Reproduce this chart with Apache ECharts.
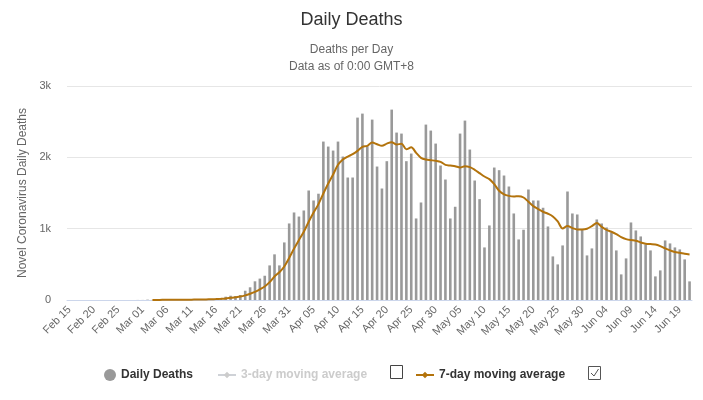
<!DOCTYPE html>
<html>
<head>
<meta charset="utf-8">
<script src="https://cdn.jsdelivr.net/npm/echarts@6/dist/echarts.min.js"></script>
<style>
html,body{margin:0;padding:0;background:#fff;}
#chart{width:703px;height:400px;}
</style>
</head>
<body>
<div id="chart"></div>
<script>
// Categories: Feb 15 .. Jun 21 (2020)
var months = [['Feb', 15, 29], ['Mar', 1, 31], ['Apr', 1, 30], ['May', 1, 31], ['Jun', 1, 21]];
var categories = [];
months.forEach(function (m) {
  for (var d = m[1]; d <= m[2]; d++) categories.push(m[0] + ' ' + (d < 10 ? '0' + d : d));
});

// Daily deaths (Feb 15 .. Feb 29)
var deathsFeb = [0,0,0,0,0,0,0,0,0,0,0,0,0,0,1];
// Mar 01 .. Mar 31
var deathsMar = [1,5,1,4,1,2,3,3,4,5,8,7,11,10,12,19,25,46,60,55,70,130,178,262,300,340,485,640,485,807,1073];
// Apr 01 .. Apr 30
var deathsApr = [1227,1170,1255,1535,1395,1490,2221,2151,2095,2221,2011,1717,1717,2557,2613,2156,2529,1871,1563,1946,2669,2347,2333,1946,2053,1143,1367,2459,2375,2193];
// May 01 .. May 31
var deathsMay = [1885,1689,1143,1307,2333,2515,2109,1675,1414,737,1045,1857,1820,1745,1591,1213,849,985,1549,1395,1395,1293,1031,611,499,765,1521,1213,1199,985,625];
// Jun 01 .. Jun 21
var deathsJun = [723,1129,1073,1017,947,695,359,583,1087,975,891,779,695,331,415,835,793,737,709,569,261];

// 7-day moving average; starts Mar 03
var ma7Feb = [null,null,null,null,null,null,null,null,null,null,null,null,null,null,null];
var ma7Mar = [null,null,1,1,2,2,2,3,3,4,5,6,7,8,10,13,17,22,30,38,48,65,88,115,150,190,250,330,390,470,590];
var ma7Apr = [720,840,957,1097,1227,1344,1493,1633,1759,1895,1969,2011,2044,2091,2147,2161,2207,2184,2161,2193,2212,2179,2190,2112,2140,2063,1993,1969,1960,1951];
var ma7May = [1937,1895,1885,1876,1857,1876,1862,1825,1778,1731,1694,1624,1531,1482,1460,1451,1456,1437,1377,1316,1274,1237,1209,1171,1101,1003,1036,1008,989,989,999];
var ma7Jun = [1036,1078,1025,983,957,924,882,854,840,831,807,789,784,779,756,723,695,672,662,648,639];

var yTicks = [0, 1000, 2000, 3000];
var yTickLabels = ['0', '1k', '2k', '3k'];

var deaths = [].concat(deathsFeb, deathsMar, deathsApr, deathsMay, deathsJun);
var ma7 = [].concat(ma7Feb, ma7Mar, ma7Apr, ma7May, ma7Jun);

var barColor = '#999999';
var lineColor = '#b3730c';
var font = 'Liberation Sans, Arial, sans-serif';

var chart = echarts.init(document.getElementById('chart'), null, {renderer: 'canvas'});
chart.setOption({
  animation: false,
  backgroundColor: '#ffffff',
  textStyle: {fontFamily: font},
  title: {
    text: 'Daily Deaths',
    subtext: 'Deaths per Day\nData as of 0:00 GMT+8',
    left: 'center',
    top: 6,
    itemGap: 12,
    textStyle: {fontSize: 18, color: '#333333', fontWeight: 'normal', fontFamily: font},
    subtextStyle: {fontSize: 12, color: '#666666', lineHeight: 17, fontFamily: font}
  },
  grid: {left: 67, right: 11, top: 86, bottom: 100, containLabel: false},
  xAxis: {
    type: 'category',
    data: categories,
    boundaryGap: true,
    axisLine: {lineStyle: {color: '#ccd6eb', width: 1}},
    axisTick: {show: false},
    axisLabel: {interval: 4, rotate: 45, color: '#666666', fontSize: 11, margin: 8, fontFamily: font}
  },
  yAxis: {
    type: 'value',
    min: yTicks[0],
    max: yTicks[yTicks.length - 1],
    interval: 1000,
    name: 'Novel Coronavirus Daily Deaths',
    nameLocation: 'middle',
    nameGap: 38,
    nameTextStyle: {color: '#666666', fontSize: 12, fontFamily: font},
    axisLine: {show: false},
    axisTick: {show: false},
    axisLabel: {
      color: '#666666', fontSize: 11, margin: 16,
      formatter: function (v) { var i = yTicks.indexOf(v); return i >= 0 ? yTickLabels[i] : ''; }
    },
    splitLine: {lineStyle: {color: '#e6e6e6', width: 1}}
  },
  legend: [
    {
      data: ['Daily Deaths'], left: 99, top: 364, icon: 'circle', itemWidth: 12, itemHeight: 12,
      textStyle: {fontSize: 12, fontWeight: 'bold', color: '#333333', fontFamily: font}
    },
    {
      data: ['3-day moving average'], left: 212, top: 364, itemWidth: 18, itemHeight: 8,
      inactiveColor: '#cccccc', selected: {'3-day moving average': false},
      textStyle: {fontSize: 12, fontWeight: 'bold', color: '#333333', fontFamily: font}
    },
    {
      data: ['7-day moving average'], left: 410, top: 364, itemWidth: 18, itemHeight: 8,
      textStyle: {fontSize: 12, fontWeight: 'bold', color: '#333333', fontFamily: font}
    }
  ],
  graphic: [
    {type: 'rect', shape: {x: 390.5, y: 365.5, width: 12, height: 13}, style: {fill: '#fff', stroke: '#444', lineWidth: 1}},
    {type: 'rect', shape: {x: 588.5, y: 366.5, width: 12, height: 13}, style: {fill: '#fff', stroke: '#555', lineWidth: 1}},
    {type: 'polyline', shape: {points: [[591, 373], [594, 376], [598.5, 369]]}, style: {stroke: '#555', lineWidth: 1, fill: null}}
  ],
  series: [
    {
      name: 'Daily Deaths', type: 'bar', data: deaths, barWidth: 2.6,
      itemStyle: {color: barColor}, z: 2
    },
    {
      name: '3-day moving average', type: 'line', data: [], symbol: 'diamond', showSymbol: false,
      itemStyle: {color: '#cccccc'}, lineStyle: {color: '#cccccc'}
    },
    {
      name: '7-day moving average', type: 'line', data: ma7, symbol: 'diamond', showSymbol: false,
      symbolSize: 8, smooth: 0.3, connectNulls: false,
      itemStyle: {color: lineColor}, lineStyle: {color: lineColor, width: 2}, z: 3
    }
  ]
});
</script>
</body>
</html>
